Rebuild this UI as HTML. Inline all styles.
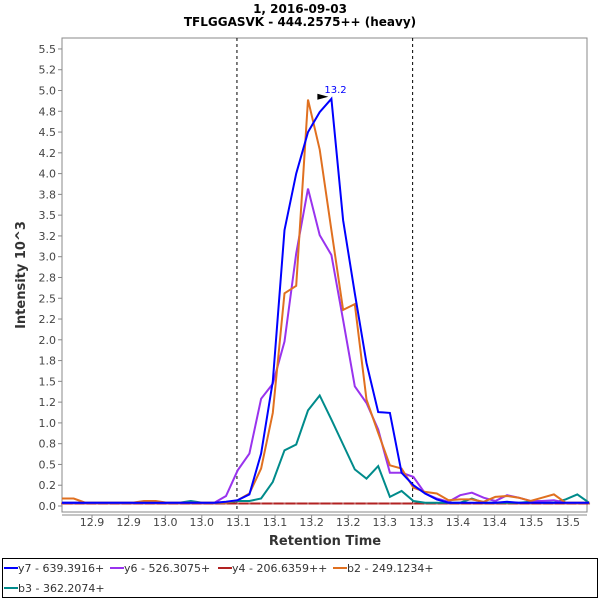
<!DOCTYPE html>
<html><head><meta charset="utf-8"><style>
body{margin:0;background:#fff;width:600px;height:600px;overflow:hidden;font-family:"DejaVu Sans","Liberation Sans",sans-serif}
</style></head><body>
<svg id="chart" width="600" height="600" xmlns="http://www.w3.org/2000/svg" font-family="DejaVu Sans, Liberation Sans, sans-serif">
<text x="300" y="13" text-anchor="middle" font-size="12" font-weight="bold">1, 2016-09-03</text>
<text x="300" y="26" text-anchor="middle" font-size="12" font-weight="bold">TFLGGASVK - 444.2575++ (heavy)</text>
<rect x="62" y="38" width="525" height="474" fill="#fff" stroke="#888"/>
<g id="yticks"></g>
<g id="xticks"></g>
<g id="marks"></g>
<text transform="translate(25,275) rotate(-90)" text-anchor="middle" font-size="13" font-weight="bold" fill="#333">Intensity 10^3</text>
<text x="325" y="545" text-anchor="middle" font-size="13" font-weight="bold" fill="#333">Retention Time</text>
<rect x="2.5" y="558.5" width="595" height="39" fill="#fff" stroke="#000"/>
<g id="legend"></g>
</svg>
<script>
const times=[12.834,12.850,12.866,12.882,12.898,12.914,12.930,12.946,12.962,12.978,12.994,13.010,13.026,13.042,13.058,13.074,13.090,13.106,13.122,13.138,13.154,13.170,13.186,13.202,13.218,13.234,13.250,13.266,13.282,13.298,13.314,13.330,13.346,13.362,13.378,13.394,13.410,13.426,13.442,13.458,13.474,13.490,13.506,13.522,13.538,13.554];
const y7=[0.04,0.04,0.04,0.04,0.04,0.04,0.04,0.04,0.04,0.04,0.04,0.04,0.04,0.04,0.05,0.07,0.14,0.63,1.50,3.32,4.00,4.50,4.74,4.90,3.44,2.56,1.72,1.13,1.12,0.40,0.25,0.15,0.08,0.04,0.04,0.04,0.04,0.04,0.05,0.04,0.04,0.04,0.04,0.04,0.04,0.04];
const y6=[0.04,0.04,0.04,0.04,0.04,0.04,0.04,0.04,0.04,0.04,0.04,0.04,0.04,0.04,0.12,0.43,0.63,1.29,1.47,1.98,3.04,3.82,3.26,3.02,2.24,1.44,1.24,0.92,0.40,0.40,0.35,0.15,0.09,0.05,0.13,0.16,0.10,0.06,0.13,0.10,0.06,0.06,0.07,0.04,0.04,0.04];
const y4=[0.03,0.03,0.03,0.03,0.03,0.03,0.03,0.03,0.03,0.03,0.03,0.03,0.03,0.03,0.03,0.03,0.03,0.03,0.03,0.03,0.03,0.03,0.03,0.03,0.03,0.03,0.03,0.03,0.03,0.03,0.03,0.03,0.03,0.03,0.03,0.03,0.03,0.03,0.03,0.03,0.03,0.03,0.03,0.03,0.03,0.03];
const b2=[0.09,0.09,0.04,0.04,0.04,0.04,0.04,0.06,0.06,0.04,0.04,0.04,0.04,0.04,0.04,0.07,0.15,0.45,1.12,2.56,2.65,4.89,4.29,3.32,2.36,2.43,1.28,0.88,0.49,0.45,0.22,0.17,0.15,0.07,0.08,0.08,0.05,0.11,0.12,0.10,0.06,0.10,0.14,0.04,0.04,0.04];
const b3=[0.04,0.04,0.04,0.04,0.04,0.04,0.04,0.04,0.04,0.04,0.04,0.06,0.04,0.04,0.04,0.06,0.06,0.09,0.29,0.67,0.74,1.15,1.33,1.04,0.74,0.44,0.33,0.48,0.11,0.18,0.06,0.04,0.04,0.04,0.04,0.09,0.04,0.04,0.04,0.04,0.05,0.04,0.04,0.08,0.14,0.04];
const yTickValues=[0,0.25,0.5,0.75,1,1.25,1.5,1.75,2,2.25,2.5,2.75,3,3.25,3.5,3.75,4,4.25,4.5,4.75,5,5.25,5.5];
const yTickLabels=["0.0","0.2","0.5","0.8","1.0","1.2","1.5","1.8","2.0","2.2","2.5","2.8","3.0","3.2","3.5","3.8","4.0","4.2","4.5","4.8","5.0","5.2","5.5"];
const xTickValues=[12.875,12.925,12.975,13.025,13.075,13.125,13.175,13.225,13.275,13.325,13.375,13.425,13.475,13.525];
const xTickLabels=["12.9","12.9","13.0","13.0","13.1","13.1","13.2","13.2","13.3","13.3","13.4","13.4","13.5","13.5"];
const boundaries=[13.073,13.313];
const peakLabel="13.2";
const seriesNames=["y7 - 639.3916+","y6 - 526.3075+","y4 - 206.6359++","b2 - 249.1234+","b3 - 362.2074+"];
const seriesColors=["#0000ff","#9933ee","#b22222","#e07020","#008b8b"];
const seriesData=[y7,y6,y4,b2,b3];

const X0=62,X1=587,Y0=38,Y1=512;
const xs=t=>62+(t-12.834)*732;
const ys=v=>506-v*83.1;
const NS="http://www.w3.org/2000/svg";
function mk(tag,attrs,parent){const e=document.createElementNS(NS,tag);for(const k in attrs)e.setAttribute(k,attrs[k]);parent.appendChild(e);return e;}
const yg=document.getElementById('yticks'),xg=document.getElementById('xticks'),mg=document.getElementById('marks'),lg=document.getElementById('legend');
yTickValues.forEach((v,i)=>{
  const y=ys(v);
  const t=mk('line',{x1:X0-4,y1:y,x2:X0,y2:y,stroke:'#888'},yg);
  
  
  const l=mk('text',{x:X0-6,y:y+4,'text-anchor':'end','font-size':'11',fill:'#444'},yg);
  l.textContent=yTickLabels[i];
  
  
});
mk('line',{x1:X0,y1:Y1+3,x2:X1,y2:Y1+3,stroke:'#888'},xg);
xTickValues.forEach((v,i)=>{
  const x=xs(v);
  const t=mk('line',{x1:x,y1:Y1+3,x2:x,y2:Y1+6,stroke:'#888'},xg);
  
  
  const l=mk('text',{x:x,y:Y1+14,'text-anchor':'middle','font-size':'11',fill:'#444'},xg);
  l.textContent=xTickLabels[i];
  
  
});
boundaries.forEach(b=>{
  const d=mk('line',{x1:xs(b),y1:Y0,x2:xs(b),y2:Y1,stroke:'#000','stroke-dasharray':'3,3','stroke-width':'1'},mg);
  
  
});
const order=[2,4,1,3,0];
order.forEach(si=>{
  const pts=seriesData[si].map((v,i)=>xs(times[i]).toFixed(1)+','+ys(v).toFixed(1)).join(' ');
  const p=mk('polyline',{points:pts,fill:'none',stroke:seriesColors[si],'stroke-width':'2','stroke-linejoin':'miter'},mg);
  
  
  if(si===2){seriesData[si].forEach((v,i)=>{
    const c=mk('rect',{x:xs(times[i])-1,y:ys(v)-1,width:2,height:2,fill:'#c06060'},mg);
    
    
  });}
});
let pk=0;y7.forEach((v,i)=>{if(v>y7[pk])pk=i;});
const px=xs(times[pk]),py=ys(y7[pk]);
const arr=mk('polygon',{points:(px-14)+','+(py-5)+' '+(px-3)+','+(py-2)+' '+(px-14)+','+(py+1),fill:'#000'},mg);


const pl=mk('text',{x:px-7,y:py-6,'font-size':'10',fill:'#0000ff'},mg);
pl.textContent=peakLabel;


const legPos=[[4,568],[110,568],[218,568],[333,568],[4,588]];
seriesNames.forEach((n,i)=>{
  const [lx,ly]=legPos[i];
  const g=mk('g',{},lg);
  
  
  mk('line',{x1:lx,y1:ly,x2:lx+14,y2:ly,stroke:seriesColors[i],'stroke-width':'2'},g);
  const t=mk('text',{x:lx+14,y:ly+4,'font-size':'11',fill:'#333'},g);
  t.textContent=n;
});
</script>
</body></html>
